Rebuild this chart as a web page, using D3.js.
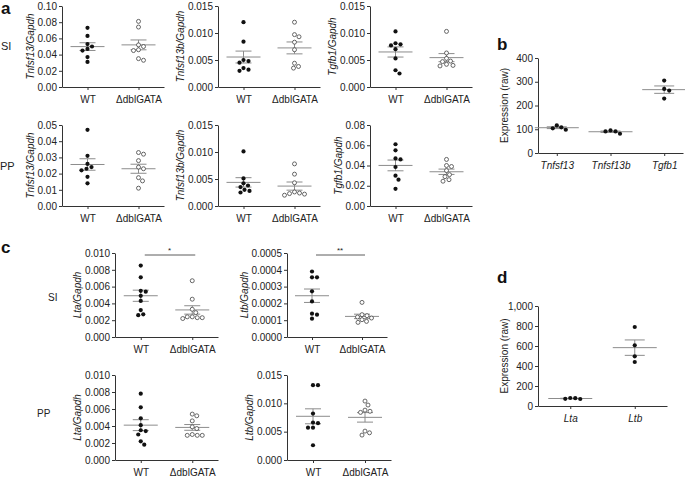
<!DOCTYPE html>
<html>
<head>
<meta charset="utf-8">
<style>
  body { margin: 0; background: #fff; }
  svg, svg text { font-family: 'Liberation Sans', Arial, sans-serif; }
  .tick text { font-size: 10px; fill: #222; font-family: 'Liberation Sans', Arial, sans-serif; }
  .domain, .tick line { stroke: #333; }
  .lab { font-size: 10px; fill: #222; }
  .letter { font-size: 17px; font-weight: bold; fill: #111; }
</style>
</head>
<body>
<svg id="fig" width="685" height="478"></svg>
<script src="https://cdn.jsdelivr.net/npm/d3@7"></script>
<script>
const genotypes = ['WT', 'ΔdblGATA']

// a, small intestine
const aSI_Tnfsf13_WT = [0.073, 0.063, 0.053, 0.050, 0.047, 0.045, 0.037, 0.031]
const aSI_Tnfsf13_KO = [0.081, 0.074, 0.052, 0.050, 0.046, 0.045, 0.035, 0.033]
const aSI_Tnfsf13b_WT = [0.0120, 0.0084, 0.0050, 0.0048, 0.0045, 0.0035, 0.0032, 0.0030]
const aSI_Tnfsf13b_KO = [0.0120, 0.0097, 0.0093, 0.0083, 0.0069, 0.0044, 0.0038, 0.0035]
const aSI_Tgfb1_WT = [0.0103, 0.0081, 0.0079, 0.0077, 0.0070, 0.0053, 0.0031, 0.0025]
const aSI_Tgfb1_KO = [0.0103, 0.0063, 0.0053, 0.0048, 0.0047, 0.0042, 0.0040, 0.0039]
// a, Peyer's patches
const aPP_Tnfsf13_WT = [0.047, 0.031, 0.026, 0.024, 0.023, 0.022, 0.018, 0.014]
const aPP_Tnfsf13_KO = [0.033, 0.032, 0.028, 0.024, 0.023, 0.0175, 0.0155, 0.011]
const aPP_Tnfsf13b_WT = [0.0101, 0.0051, 0.0042, 0.0038, 0.0035, 0.0030, 0.0028, 0.0025]
const aPP_Tnfsf13b_KO = [0.0078, 0.0059, 0.0043, 0.0026, 0.0024, 0.0023, 0.0022, 0.0020]
const aPP_Tgfb1_WT = [0.061, 0.055, 0.047, 0.046, 0.0385, 0.030, 0.026, 0.017]
const aPP_Tgfb1_KO = [0.046, 0.040, 0.039, 0.035, 0.031, 0.029, 0.026, 0.0245]

// b
const bGenes = ['Tnfsf13', 'Tnfsf13b', 'Tgfb1']
const bExpr = [[108, 98, 104, 116], [91, 81, 91, 95], [305, 270, 263, 229]]

// c
const cSI_Lta_WT = [0.0085, 0.0071, 0.0055, 0.0054, 0.0049, 0.0043, 0.0032, 0.0027, 0.0026]
const cSI_Lta_KO = [0.0067, 0.0045, 0.0033, 0.0029, 0.0024, 0.0023, 0.0023, 0.0024, 0.0022]
const cSI_Ltb_WT = [0.00039, 0.000355, 0.000355, 0.000272, 0.000212, 0.000139, 0.000133, 0.000109]
const cSI_Ltb_KO = [0.000206, 0.000133, 0.000127, 0.000119, 0.000113, 0.000103, 0.000093, 0.000087]
const cPP_Lta_WT = [0.0078, 0.0062, 0.0049, 0.0041, 0.0035, 0.0034, 0.0030, 0.0022, 0.0018]
const cPP_Lta_KO = [0.0054, 0.0052, 0.0046, 0.0039, 0.0037, 0.0030, 0.0029, 0.0029, 0.0029]
const cPP_Ltb_WT = [0.0132, 0.0132, 0.0082, 0.0066, 0.0065, 0.0057, 0.0057, 0.0026]
const cPP_Ltb_KO = [0.0104, 0.0097, 0.0088, 0.0086, 0.0084, 0.0051, 0.0048, 0.0044]

// d
const dGenes = ['Lta', 'Ltb']
const dExpr = [[80, 72, 70, 78], [790, 607, 497, 440]]

// y tick values
const ticks010 = [0, 0.02, 0.04, 0.06, 0.08, 0.10]
const ticks015 = [0, 0.005, 0.010, 0.015]
const ticks005 = [0, 0.01, 0.02, 0.03, 0.04, 0.05]
const ticks008 = [0, 0.02, 0.04, 0.06, 0.08]
const ticksB = [0, 100, 200, 300, 400]
const ticksLta = [0, 0.002, 0.004, 0.006, 0.008, 0.010]
const ticksLtb = [0, 0.0001, 0.0002, 0.0003, 0.0004, 0.0005]
const ticksD = [0, 200, 400, 600, 800, 1000]

const svg = d3.select('#fig')

// simple beeswarm: push points sideways until they stop overlapping
function swarm(vals, y, d) {
  const pts = vals.map(v => ({ v, y: y(v), dx: 0 })).sort((a, b) => a.y - b.y)
  const placed = []
  pts.forEach(p => {
    for (let k = 0; k < 400; k++) {
      const c = k === 0 ? 0 : (k % 2 ? 1 : -1) * Math.ceil(k / 2) * 0.5
      const ok = placed.every(q => (c - q.dx) ** 2 + (p.y - q.y) ** 2 >= d * d)
      if (ok) { p.dx = c; break }
    }
    placed.push(p)
  })
  return pts
}

function scatter(o) {
  const g = svg.append('g')
  const x = d3.scalePoint().domain(o.cats).range([o.x0, o.x0 + o.w]).padding(o.pad || 0.5)
  const y = d3.scaleLinear().domain([0, o.ticks[o.ticks.length - 1]]).range([o.yBot, o.yTop])

  const ya = g.append('g')
    .attr('transform', `translate(${o.x0},0)`)
    .call(d3.axisLeft(y).tickValues(o.ticks).tickFormat(d3.format(o.fmt)).tickSize(3).tickPadding(2).tickSizeOuter(0))
  const xa = g.append('g')
    .attr('transform', `translate(0,${o.yBot})`)
    .call(d3.axisBottom(x).tickSize(3).tickPadding(6).tickSizeOuter(0))
  ya.attr('font-family', null)
  xa.attr('font-family', null)
  xa.selectAll('.tick text').style('font-style', o.catItalic ? 'italic' : 'normal')

  const ymid = (o.yTop + o.yBot) / 2
  const lx = o.labX != null ? o.x0 - o.labX : o.x0 + ya.node().getBBox().x - 7
  g.append('text').attr('class', 'lab')
    .attr('transform', `translate(${lx},${ymid}) rotate(-90)`)
    .attr('text-anchor', 'middle').attr('dy', '0.35em')
    .style('font-style', o.labItalic ? 'italic' : 'normal')
    .text(o.ylab)

  o.series.forEach((vals, i) => {
    const cx = x(o.cats[i])
    const m = d3.mean(vals)
    const sem = d3.deviation(vals) / Math.sqrt(vals.length)
    const lg = g.append('g').attr('stroke', '#8c8c8c').attr('stroke-width', 1)
    lg.append('line').attr('x1', cx - o.mh).attr('x2', cx + o.mh).attr('y1', y(m)).attr('y2', y(m))
    lg.append('line').attr('x1', cx).attr('x2', cx).attr('y1', y(m - sem)).attr('y2', y(m + sem))
    ;[m - sem, m + sem].forEach(v => {
      lg.append('line').attr('x1', cx - o.ch).attr('x2', cx + o.ch).attr('y1', y(v)).attr('y2', y(v))
    })
    const open = o.openSecond && i === 1
    g.selectAll(null).data(swarm(vals, y, 4.8)).join('circle')
      .attr('cx', p => cx + p.dx).attr('cy', p => p.y)
      .attr('r', open ? 2.0 : 2.1)
      .attr('fill', open ? '#fff' : '#111')
      .attr('stroke', open ? '#444' : 'none')
      .attr('stroke-width', 0.8)
  })

  if (o.sig) {
    const ys = o.yTop + 2
    g.append('line').attr('x1', x(o.cats[0]) + 4).attr('x2', x(o.cats[1]) + 3)
      .attr('y1', ys).attr('y2', ys).attr('stroke', '#333').attr('stroke-width', 0.8)
    g.append('text').attr('class', 'lab').style('font-size', '8px')
      .attr('x', (x(o.cats[0]) + x(o.cats[1])) / 2 + 3).attr('y', ys - 2)
      .attr('text-anchor', 'middle').text(o.sig)
  }
}

const base = { cats: genotypes, w: 102, mh: 17, ch: 8, openSecond: true, labItalic: true }

// panel a
scatter({ ...base, x0: 62, yTop: 6, yBot: 87, series: [aSI_Tnfsf13_WT, aSI_Tnfsf13_KO], ticks: ticks010, fmt: '.2f', ylab: 'Tnfsf13/Gapdh' })
scatter({ ...base, x0: 218, yTop: 6, yBot: 87, series: [aSI_Tnfsf13b_WT, aSI_Tnfsf13b_KO], ticks: ticks015, fmt: '.3f', ylab: 'Tnfsf13b/Gapdh' })
scatter({ ...base, x0: 370, yTop: 6, yBot: 87, series: [aSI_Tgfb1_WT, aSI_Tgfb1_KO], ticks: ticks015, fmt: '.3f', ylab: 'Tgfb1/Gapdh' })
scatter({ ...base, x0: 62, yTop: 125, yBot: 206, series: [aPP_Tnfsf13_WT, aPP_Tnfsf13_KO], ticks: ticks005, fmt: '.2f', ylab: 'Tnfsf13/Gapdh' })
scatter({ ...base, x0: 218, yTop: 125, yBot: 206, series: [aPP_Tnfsf13b_WT, aPP_Tnfsf13b_KO], ticks: ticks015, fmt: '.3f', ylab: 'Tnfsf13b/Gapdh' })
scatter({ ...base, x0: 370, yTop: 125, yBot: 206, series: [aPP_Tgfb1_WT, aPP_Tgfb1_KO], ticks: ticks008, fmt: '.2f', ylab: 'Tgfb1/Gapdh' })

// panel b
scatter({ cats: bGenes, x0: 538, w: 145, pad: 0.35, yTop: 58, yBot: 153, series: bExpr, ticks: ticksB, fmt: 'd',
  ylab: 'Expression (raw)', labX: 34, mh: 22, ch: 10, catItalic: true })

// panel c
scatter({ ...base, x0: 115, w: 103, yTop: 253, yBot: 337, series: [cSI_Lta_WT, cSI_Lta_KO], ticks: ticksLta, fmt: '.3f', ylab: 'Lta/Gapdh', sig: '*' })
scatter({ ...base, x0: 287, w: 100, yTop: 253, yBot: 337, series: [cSI_Ltb_WT, cSI_Ltb_KO], ticks: ticksLtb, fmt: '.4f', ylab: 'Ltb/Gapdh', sig: '**' })
scatter({ ...base, x0: 115, w: 103, yTop: 375, yBot: 460, series: [cPP_Lta_WT, cPP_Lta_KO], ticks: ticksLta, fmt: '.3f', ylab: 'Lta/Gapdh' })
scatter({ ...base, x0: 287, w: 104, yTop: 375, yBot: 460, series: [cPP_Ltb_WT, cPP_Ltb_KO], ticks: ticks015, fmt: '.3f', ylab: 'Ltb/Gapdh' })

// panel d
scatter({ cats: dGenes, x0: 538, w: 129, pad: 0.5, yTop: 306, yBot: 406, series: dExpr, ticks: ticksD, fmt: ',',
  ylab: 'Expression (raw)', labX: 34, mh: 22, ch: 10, catItalic: true })

// letters and tissue labels
const letters = [['a', 1, 14], ['b', 497, 50], ['c', 1, 253], ['d', 497, 283]]
svg.selectAll('.letter').data(letters).join('text').attr('class', 'letter')
  .attr('x', d => d[1]).attr('y', d => d[2]).text(d => d[0])
const tissues = [['SI', 1, 46, 11], ['PP', 0, 166, 11], ['SI', 48, 297, 10], ['PP', 37, 413, 10]]
svg.selectAll('.tissue').data(tissues).join('text').attr('class', 'lab tissue')
  .attr('x', d => d[1]).attr('y', d => d[2]).attr('dy', '0.35em')
  .style('font-size', d => d[3] + 'px').text(d => d[0])
</script>
</body>
</html>
